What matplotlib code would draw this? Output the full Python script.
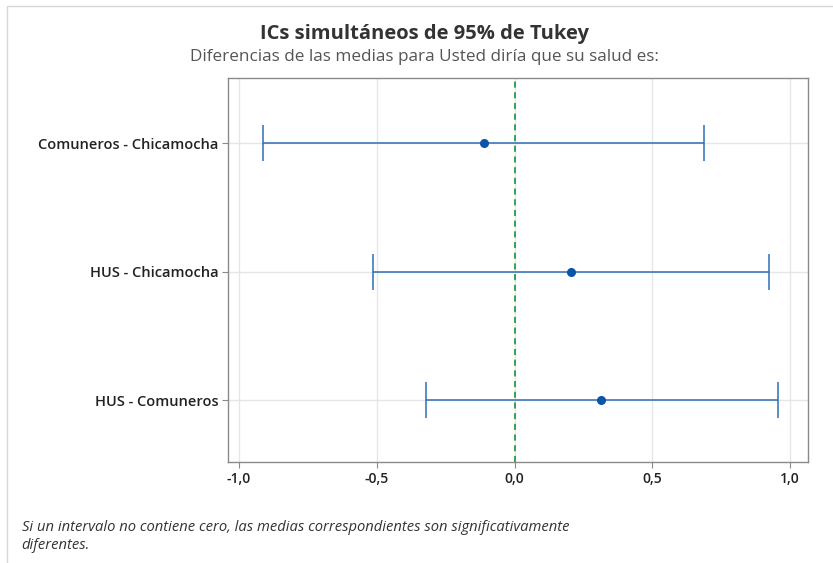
import matplotlib

matplotlib.use("Agg")
import matplotlib.pyplot as plt
from matplotlib.patches import Rectangle

plt.rcParams["font.family"] = ["Open Sans", "DejaVu Sans"]

comparisons = ["Comuneros - Chicamocha", "HUS - Chicamocha", "HUS - Comuneros"]
means = [-0.111, 0.205, 0.314]
lower = [-0.913, -0.513, -0.322]
upper = [0.689, 0.922, 0.956]
xticks = [-1.0, -0.5, 0.0, 0.5, 1.0]
xticklabels = ["-1,0", "-0,5", "0,0", "0,5", "1,0"]

BLUE = "#2f6db5"
DOT = "#0b55a8"

fig = plt.figure(figsize=(8.33, 5.63), dpi=100)
fig.patches.append(
    Rectangle((0.008, -0.1), 1.2, 1.089, transform=fig.transFigure,
              fill=False, ec="#d8d8d8", lw=1)
)
ax = fig.add_axes([0.2737, 0.1794, 0.6963, 0.6821])

ys = list(range(1, len(comparisons) + 1))
xerr = [[m - lo for m, lo in zip(means, lower)], [hi - m for m, hi in zip(means, upper)]]
ax.errorbar(means, ys, xerr=xerr, fmt="none", ecolor=BLUE, elinewidth=1.1,
            capsize=13, capthick=1.1, zorder=3)
ax.plot(means, ys, "o", color=DOT, ms=5.5, zorder=4)
ax.axvline(0, color="#078a28", lw=1.1, ls=(0, (4, 3)), zorder=2)

ax.set_xlim(-1.04, 1.065)
ax.set_ylim(3.48, 0.494)
ax.set_xticks(xticks)
ax.set_xticklabels(xticklabels, fontsize=10, fontweight="semibold", color="#222")
ax.set_yticks(ys)
ax.set_yticklabels(comparisons, fontsize=10.5, fontweight="semibold", color="#222")
ax.grid(True, color="#e6e6e6", lw=1, zorder=0)
ax.set_axisbelow(True)
for s in ax.spines.values():
    s.set_color("#8a8a8a")
    s.set_linewidth(1)
ax.tick_params(axis="both", length=4, color="#8a8a8a", pad=3)

fig.text(0.51, 0.939, "ICs simultáneos de 95% de Tukey", ha="center", va="center",
         fontsize=14.5, fontweight="bold", color="#333")
fig.text(0.51, 0.898, "Diferencias de las medias para Usted diría que su salud es:",
         ha="center", va="center", fontsize=12.3, color="#555")
fig.text(0.026, 0.047,
         "Si un intervalo no contiene cero, las medias correspondientes son significativamente\ndiferentes.",
         ha="left", va="center", fontsize=10.6, style="italic", color="#333",
         linespacing=1.25)

fig.savefig("out.png", dpi=100)
